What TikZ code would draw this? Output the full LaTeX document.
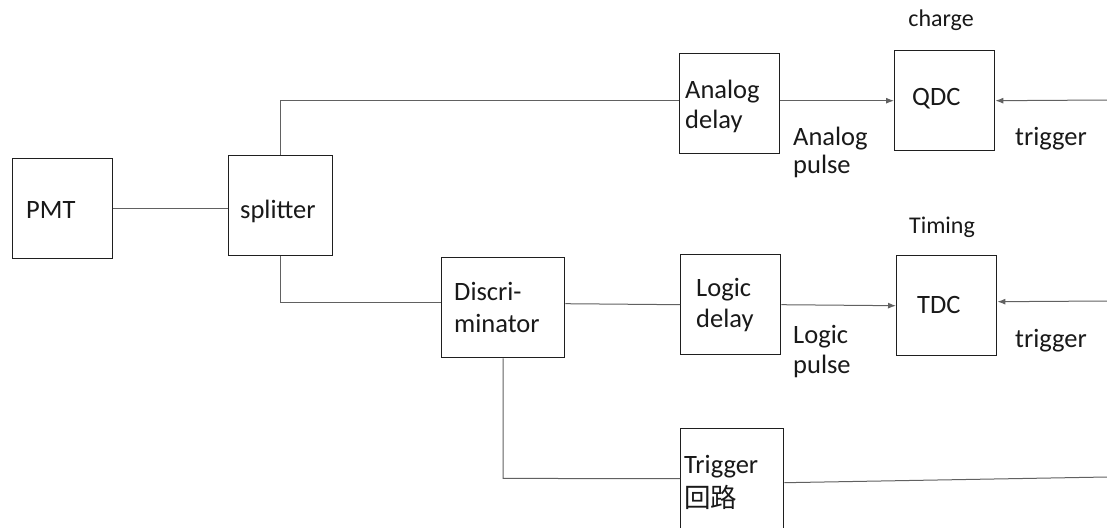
\documentclass[tikz,border=0pt]{standalone}
\usepackage{fontspec}
\setmainfont{Carlito}
\newfontfamily\cjkfont{Noto Sans CJK SC}
\usetikzlibrary{arrows.meta}
\begin{document}
\begin{tikzpicture}[x=1pt,y=-1pt,
  box/.style={draw=black!88,line width=1.4pt,inner sep=0pt,anchor=north west,fill=none},
  conn/.style={draw=black!62,line width=1pt},
  arr/.style={conn,-{Latex[length=8pt,width=6pt]}},
  txt/.style={anchor=base west,inner sep=0pt,font=\fontsize{26.5}{30}\selectfont,text=black!90},
  small/.style={anchor=base,inner sep=0pt,font=\fontsize{24}{28}\selectfont,text=black!90}]
\useasboundingbox[fill=white] (0,0) rectangle (1107,527);
% boxes
\node[box,minimum width=100pt,minimum height=100pt] (pmt) at (12,158) {};
\node[box,minimum width=104pt,minimum height=100pt] (split) at (228,155) {};
\node[box,minimum width=100pt,minimum height=100pt] (adel) at (679,53) {};
\node[box,minimum width=100pt,minimum height=100pt] (qdc) at (894,50) {};
\node[box,minimum width=123pt,minimum height=100pt] (disc) at (441,257) {};
\node[box,minimum width=100pt,minimum height=100pt] (ldel) at (680,254) {};
\node[box,minimum width=100pt,minimum height=100pt] (tdc) at (896,255) {};
\node[box,minimum width=103pt,minimum height=130pt] (trig) at (680,428) {};
% texts
\node[txt] (tpmt) at (26,218) {PMT};
\node[txt] (tsplit) at (240,218) {splitter};
\node[txt] (tadel1) at (685,98) {Analog};
\node[txt] (tadel2) at (685,128) {delay};
\node[txt] (tqdc) at (912,105) {QDC};
\node[small] (tcharge) at (941,27) {charge};
\node[txt] (tap1) at (793,145) {Analog};
\node[txt] (tap2) at (793,173) {pulse};
\node[txt] (ttrig1) at (1015,145) {trigger};
\node[txt] (tdisc1) at (454,300) {Discri-};
\node[txt] (tdisc2) at (454,332) {minator};
\node[txt] (tldel1) at (696,296) {Logic};
\node[txt] (tldel2) at (696,327) {delay};
\node[txt] (ttdc) at (917,313) {TDC};
\node[small] (ttiming) at (942,233) {Timing};
\node[txt] (tlp1) at (793,343) {Logic};
\node[txt] (tlp2) at (793,373) {pulse};
\node[txt] (ttrig2) at (1015,347) {trigger};
\node[txt] (ttrigc1) at (684,473) {Trigger};
\node[txt] (ttrigc2) at (684,507) {\cjkfont 回路};
% free ends
\coordinate (r1) at (1107,100);
\coordinate (r2) at (1107,301);
\coordinate (r3) at (1107,477);
% connectors
\draw[conn] (pmt.east) -- (pmt.east -| split.west);
\draw[conn] (split.north) |- ([yshift=3pt]adel.west);
\draw[conn] (split.south) |- ([yshift=5pt]disc.west);
\draw[conn] ([yshift=4pt]disc.east) -- (ldel.west);
\draw[arr] ([yshift=3pt]adel.east) -- (qdc.west);
\draw[arr] (r1) -- (qdc.east);
\draw[arr] (ldel.east) -- (tdc.west);
\draw[arr] (r2) -- ([yshift=4pt]tdc.east);
\draw[conn] (disc.south) -- ++(0,120) -- ([yshift=15pt]trig.west);
\draw[conn] ([yshift=11pt]trig.east) -- (r3);
\end{tikzpicture}
\end{document}
